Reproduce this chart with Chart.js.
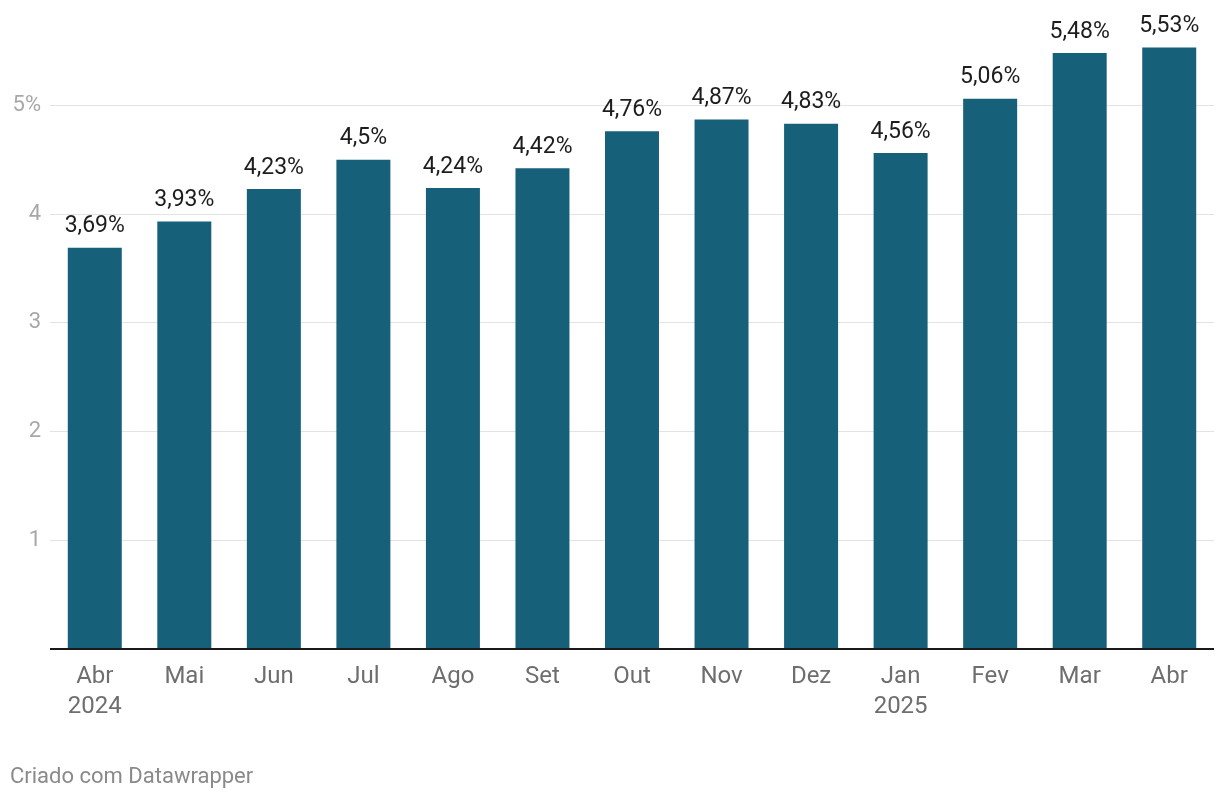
<!DOCTYPE html>
<html>
<head>
<meta charset="utf-8">
<script src="https://cdn.jsdelivr.net/npm/chart.js@4"></script>
<style>
html,body{margin:0;padding:0;background:#fff;}
#wrap{width:1220px;height:800px;position:relative;}
</style>
</head>
<body>
<div id="wrap"><canvas id="c" width="1220" height="800"></canvas></div>
<script>
const categories = [["Abr","2024"],"Mai","Jun","Jul","Ago","Set","Out","Nov","Dez",["Jan","2025"],"Fev","Mar","Abr"];
const values = [3.69,3.93,4.23,4.5,4.24,4.42,4.76,4.87,4.83,4.56,5.06,5.48,5.53];
const valueLabels = ["3,69%","3,93%","4,23%","4,5%","4,24%","4,42%","4,76%","4,87%","4,83%","4,56%","5,06%","5,48%","5,53%"];
const yTicks = [1,2,3,4,5];
const footer = "Criado com Datawrapper";

const labelPlugin = {
  id:'vlabels',
  afterDatasetsDraw(chart){
    const ctx = chart.ctx;
    const meta = chart.getDatasetMeta(0);
    ctx.save();
    ctx.font = '23px Roboto';
    ctx.fillStyle = '#1d1d1d';
    ctx.textAlign = 'center';
    ctx.textBaseline = 'middle';
    meta.data.forEach((bar,i)=>{
      ctx.fillText(valueLabels[i], bar.x, bar.y - 21);
    });
    ctx.font = '22px Roboto';
    ctx.fillStyle = '#8a8a8a';
    ctx.textAlign = 'left';
    ctx.fillText(footer, 10, 777);
    ctx.restore();
  }
};

new Chart(document.getElementById('c'), {
  type:'bar',
  data:{
    labels:categories,
    datasets:[{data:values, backgroundColor:'#17607a', barPercentage:0.603, categoryPercentage:1}]
  },
  options:{
    responsive:false,
    animation:false,
    devicePixelRatio:1,
    layout:{padding:{top:40,right:6,bottom:65,left:0}},
    plugins:{legend:{display:false},tooltip:{enabled:false}},
    scales:{
      x:{
        grid:{display:false, drawTicks:false},
        border:{display:false},
        ticks:{color:'#6e6e6e', font:{family:'Roboto', size:24, lineHeight:1.25}, padding:13, maxRotation:0, autoSkip:false}
      },
      y:{
        min:0, max:5.6,
        afterFit(s){ s.width = 50; },
        afterBuildTicks(s){ s.ticks = [0].concat(yTicks).map(v=>({value:v})); },
        grid:{
          drawTicks:false,
          color:(c)=> c.tick && c.tick.value===0 ? '#1a1a1a' : '#e3e3e3',
          lineWidth:(c)=> c.tick && c.tick.value===0 ? 2 : 1
        },
        border:{display:false},
        ticks:{
          color:'#a8a8a8', font:{family:'Roboto', size:22}, padding:9,
          callback:(v)=> v===0 ? '' : (v===5 ? '5%' : String(v))
        }
      }
    }
  },
  plugins:[labelPlugin]
});
</script>
</body>
</html>
